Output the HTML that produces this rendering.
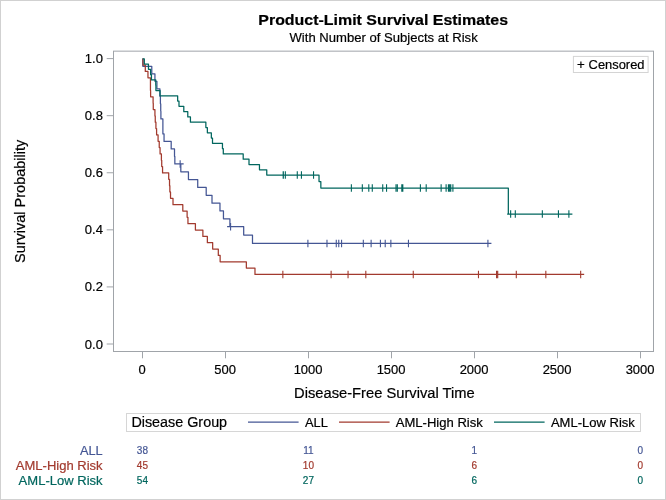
<!DOCTYPE html>
<html><head><meta charset="utf-8"><title>Product-Limit Survival Estimates</title>
<style>
html,body{margin:0;padding:0;background:#fff;}
body{width:666px;height:500px;overflow:hidden;}
svg{display:block;font-family:"Liberation Sans", sans-serif;}
text{fill:#000;stroke:#000;stroke-width:0.2px;}
</style></head><body>
<svg width="666" height="500" viewBox="0 0 666 500">
<rect x="0" y="0" width="666" height="500" fill="#fff"/>
<rect x="0.5" y="0.5" width="665" height="499" fill="none" stroke="#d1d1d1" stroke-width="1"/>
<text x="258.3" y="25.4" font-size="15.5" font-weight="bold" textLength="249.8" lengthAdjust="spacingAndGlyphs">Product-Limit Survival Estimates</text>
<text x="289.5" y="41.6" font-size="13.3" textLength="188.2" lengthAdjust="spacingAndGlyphs">With Number of Subjects at Risk</text>
<rect x="113.5" y="51.15" width="540.0" height="300.35" fill="#fff" stroke="#a0a4a9" stroke-width="1"/>
<line x1="106.7" y1="344.0" x2="113.5" y2="344.0" stroke="#a0a4a9" stroke-width="1"/>
<text x="84.8" y="348.55" font-size="13.6" textLength="18.1" lengthAdjust="spacingAndGlyphs">0.0</text>
<line x1="106.7" y1="286.92" x2="113.5" y2="286.92" stroke="#a0a4a9" stroke-width="1"/>
<text x="84.8" y="291.47" font-size="13.6" textLength="18.1" lengthAdjust="spacingAndGlyphs">0.2</text>
<line x1="106.7" y1="229.84" x2="113.5" y2="229.84" stroke="#a0a4a9" stroke-width="1"/>
<text x="84.8" y="234.39" font-size="13.6" textLength="18.1" lengthAdjust="spacingAndGlyphs">0.4</text>
<line x1="106.7" y1="172.76" x2="113.5" y2="172.76" stroke="#a0a4a9" stroke-width="1"/>
<text x="84.8" y="177.31" font-size="13.6" textLength="18.1" lengthAdjust="spacingAndGlyphs">0.6</text>
<line x1="106.7" y1="115.68" x2="113.5" y2="115.68" stroke="#a0a4a9" stroke-width="1"/>
<text x="84.8" y="120.23" font-size="13.6" textLength="18.1" lengthAdjust="spacingAndGlyphs">0.8</text>
<line x1="106.7" y1="58.6" x2="113.5" y2="58.6" stroke="#a0a4a9" stroke-width="1"/>
<text x="84.8" y="63.15" font-size="13.6" textLength="18.1" lengthAdjust="spacingAndGlyphs">1.0</text>
<line x1="142.5" y1="351.5" x2="142.5" y2="358.3" stroke="#a0a4a9" stroke-width="1"/>
<text x="138.49" y="374" font-size="13.5" textLength="7.21" lengthAdjust="spacingAndGlyphs">0</text>
<line x1="225.5" y1="351.5" x2="225.5" y2="358.3" stroke="#a0a4a9" stroke-width="1"/>
<text x="214.28" y="374" font-size="13.5" textLength="21.65" lengthAdjust="spacingAndGlyphs">500</text>
<line x1="308.5" y1="351.5" x2="308.5" y2="358.3" stroke="#a0a4a9" stroke-width="1"/>
<text x="293.67" y="374" font-size="13.5" textLength="28.86" lengthAdjust="spacingAndGlyphs">1000</text>
<line x1="391.5" y1="351.5" x2="391.5" y2="358.3" stroke="#a0a4a9" stroke-width="1"/>
<text x="376.67" y="374" font-size="13.5" textLength="28.86" lengthAdjust="spacingAndGlyphs">1500</text>
<line x1="474.5" y1="351.5" x2="474.5" y2="358.3" stroke="#a0a4a9" stroke-width="1"/>
<text x="459.67" y="374" font-size="13.5" textLength="28.86" lengthAdjust="spacingAndGlyphs">2000</text>
<line x1="557.5" y1="351.5" x2="557.5" y2="358.3" stroke="#a0a4a9" stroke-width="1"/>
<text x="542.67" y="374" font-size="13.5" textLength="28.86" lengthAdjust="spacingAndGlyphs">2500</text>
<line x1="640.5" y1="351.5" x2="640.5" y2="358.3" stroke="#a0a4a9" stroke-width="1"/>
<text x="625.67" y="374" font-size="13.5" textLength="28.86" lengthAdjust="spacingAndGlyphs">3000</text>
<text x="294.1" y="398.3" font-size="14.7" textLength="180.6" lengthAdjust="spacingAndGlyphs">Disease-Free Survival Time</text>
<text transform="translate(25.3,263.0) rotate(-90)" font-size="14.7" textLength="123.3" lengthAdjust="spacingAndGlyphs">Survival Probability</text>
<path d="M142.65,58.80H142.82V66.31H151.78V73.82H154.93V81.33H156.92V88.84H159.91V96.35H160.40V103.86H160.73V111.37H160.90V118.88H162.89V133.91H164.05V141.42H171.19V148.93H174.51V156.44H174.84V163.95H180.81V171.78H188.44V179.62H197.73V187.46H206.20V195.30H212.00V203.13H219.97V210.97H223.45V218.81H229.92V226.64H243.69V235.04H252.49V243.44H487.92M176.65,163.95h7M227.09,226.64h7M304.40,243.44h7M323.48,243.44h7M332.77,243.44h7M335.26,243.44h7M338.08,243.44h7M359.82,243.44h7M367.62,243.44h7M376.91,243.44h7M381.72,243.44h7M387.36,243.44h7M404.95,243.44h7M484.42,243.44h7" fill="none" stroke="#445694" stroke-width="1.25" stroke-linejoin="round"/>
<path d="M180.15,160.20v7.5M230.59,222.89v7.5M307.90,239.69v7.5M326.98,239.69v7.5M336.27,239.69v7.5M338.76,239.69v7.5M341.58,239.69v7.5M363.32,239.69v7.5M371.12,239.69v7.5M380.41,239.69v7.5M385.22,239.69v7.5M390.86,239.69v7.5M408.45,239.69v7.5M487.92,239.69v7.5" fill="none" stroke="#445694" stroke-width="1.1"/>
<path d="M142.65,58.80H142.98V65.14H145.30V71.48H147.96V77.83H150.45V90.51H150.61V96.85H153.10V103.20H153.27V109.54H154.93V115.88H155.26V122.22H155.92V128.56H156.59V134.91H158.08V141.25H159.24V147.59H160.07V153.93H161.40V160.28H161.73V166.62H162.56V172.96H168.70V179.30H169.53V185.64H169.86V191.99H170.52V198.33H173.01V204.67H182.80V211.01H187.12V217.36H187.95V223.70H195.41V230.04H202.88V236.38H207.36V242.72H212.67V249.07H218.31V255.41H220.13V261.75H246.35V268.09H254.98V274.44H580.67M279.35,274.44h7M327.63,274.44h7M344.55,274.44h7M362.31,274.44h7M409.76,274.44h7M474.97,274.44h7M493.05,274.44h7M494.21,274.44h7M512.79,274.44h7M542.33,274.44h7M577.17,274.44h7" fill="none" stroke="#A23A2E" stroke-width="1.25" stroke-linejoin="round"/>
<path d="M282.85,270.69v7.5M331.13,270.69v7.5M348.05,270.69v7.5M365.81,270.69v7.5M413.26,270.69v7.5M478.47,270.69v7.5M496.55,270.69v7.5M497.71,270.69v7.5M516.29,270.69v7.5M545.83,270.69v7.5M580.67,270.69v7.5" fill="none" stroke="#A23A2E" stroke-width="1.1"/>
<path d="M142.65,58.80H144.31V64.09H148.46V69.37H150.61V74.66H151.44V79.94H155.76V85.23H155.92V90.51H160.07V95.80H177.66V101.08H178.99V106.37H183.80V111.65H187.78V116.94H190.43V122.22H205.86V127.51H207.36V132.79H211.34V138.08H212.50V143.36H222.46V148.65H223.29V153.93H243.20V159.22H249.00V164.50H259.46V169.79H266.76V175.07H319.02V181.58H320.84V188.08H508.33V214.10H568.89M279.68,175.07h7M279.85,175.07h7M281.84,175.07h7M293.78,175.07h7M297.93,175.07h7M310.04,175.07h7M347.87,188.08h7M358.82,188.08h7M365.29,188.08h7M368.78,188.08h7M379.23,188.08h7M383.05,188.08h7M392.50,188.08h7M393.83,188.08h7M398.31,188.08h7M399.31,188.08h7M416.89,188.08h7M422.70,188.08h7M437.63,188.08h7M442.61,188.08h7M444.93,188.08h7M446.10,188.08h7M447.26,188.08h7M449.41,188.08h7M507.15,214.10h7M511.80,214.10h7M538.84,214.10h7M554.94,214.10h7M565.39,214.10h7" fill="none" stroke="#01665E" stroke-width="1.25" stroke-linejoin="round"/>
<path d="M283.18,171.32v7.5M283.35,171.32v7.5M285.34,171.32v7.5M297.28,171.32v7.5M301.43,171.32v7.5M313.54,171.32v7.5M351.37,184.33v7.5M362.32,184.33v7.5M368.79,184.33v7.5M372.28,184.33v7.5M382.73,184.33v7.5M386.55,184.33v7.5M396.00,184.33v7.5M397.33,184.33v7.5M401.81,184.33v7.5M402.81,184.33v7.5M420.39,184.33v7.5M426.20,184.33v7.5M441.13,184.33v7.5M446.11,184.33v7.5M448.43,184.33v7.5M449.60,184.33v7.5M450.76,184.33v7.5M452.91,184.33v7.5M510.65,210.35v7.5M515.30,210.35v7.5M542.34,210.35v7.5M558.44,210.35v7.5M568.89,210.35v7.5" fill="none" stroke="#01665E" stroke-width="1.1"/>
<rect x="573.4" y="56.4" width="74.7" height="16.1" fill="#fff" stroke="#d4d4d4" stroke-width="1"/>
<text x="577.0" y="68.8" font-size="13.3">+</text>
<text x="588.6" y="68.8" font-size="13.3" textLength="55.9" lengthAdjust="spacingAndGlyphs">Censored</text>
<rect x="126.5" y="413.5" width="514" height="18" fill="#fff" stroke="#d6d6d6" stroke-width="1"/>
<text x="131.4" y="427.2" font-size="14.7" textLength="95.7" lengthAdjust="spacingAndGlyphs">Disease Group</text>
<line x1="248" y1="422.15" x2="298.6" y2="422.15" stroke="#445694" stroke-width="1.25"/>
<text x="305" y="427" font-size="13.3" textLength="22.95" lengthAdjust="spacingAndGlyphs">ALL</text>
<line x1="339" y1="422.15" x2="389.6" y2="422.15" stroke="#A23A2E" stroke-width="1.25"/>
<text x="395.7" y="427" font-size="13.3" textLength="87.1" lengthAdjust="spacingAndGlyphs">AML-High Risk</text>
<line x1="494" y1="422.15" x2="544.6" y2="422.15" stroke="#01665E" stroke-width="1.25"/>
<text x="550.9" y="427" font-size="13.3" textLength="83.9" lengthAdjust="spacingAndGlyphs">AML-Low Risk</text>
<text x="79.9" y="454.75" font-size="13.3" textLength="22.7" lengthAdjust="spacingAndGlyphs" style="fill:#445694;stroke:#445694">ALL</text>
<text x="142.4" y="453.9" font-size="10.0" text-anchor="middle" style="fill:#445694;stroke:#445694">38</text>
<text x="308.4" y="453.9" font-size="10.0" text-anchor="middle" style="fill:#445694;stroke:#445694">11</text>
<text x="474.4" y="453.9" font-size="10.0" text-anchor="middle" style="fill:#445694;stroke:#445694">1</text>
<text x="640.4" y="453.9" font-size="10.0" text-anchor="middle" style="fill:#445694;stroke:#445694">0</text>
<text x="15.8" y="469.75" font-size="13.3" textLength="86.8" lengthAdjust="spacingAndGlyphs" style="fill:#A23A2E;stroke:#A23A2E">AML-High Risk</text>
<text x="142.4" y="468.9" font-size="10.0" text-anchor="middle" style="fill:#A23A2E;stroke:#A23A2E">45</text>
<text x="308.4" y="468.9" font-size="10.0" text-anchor="middle" style="fill:#A23A2E;stroke:#A23A2E">10</text>
<text x="474.4" y="468.9" font-size="10.0" text-anchor="middle" style="fill:#A23A2E;stroke:#A23A2E">6</text>
<text x="640.4" y="468.9" font-size="10.0" text-anchor="middle" style="fill:#A23A2E;stroke:#A23A2E">0</text>
<text x="18.6" y="484.75" font-size="13.3" textLength="84.0" lengthAdjust="spacingAndGlyphs" style="fill:#01665E;stroke:#01665E">AML-Low Risk</text>
<text x="142.4" y="483.9" font-size="10.0" text-anchor="middle" style="fill:#01665E;stroke:#01665E">54</text>
<text x="308.4" y="483.9" font-size="10.0" text-anchor="middle" style="fill:#01665E;stroke:#01665E">27</text>
<text x="474.4" y="483.9" font-size="10.0" text-anchor="middle" style="fill:#01665E;stroke:#01665E">6</text>
<text x="640.4" y="483.9" font-size="10.0" text-anchor="middle" style="fill:#01665E;stroke:#01665E">0</text>
</svg></body></html>
